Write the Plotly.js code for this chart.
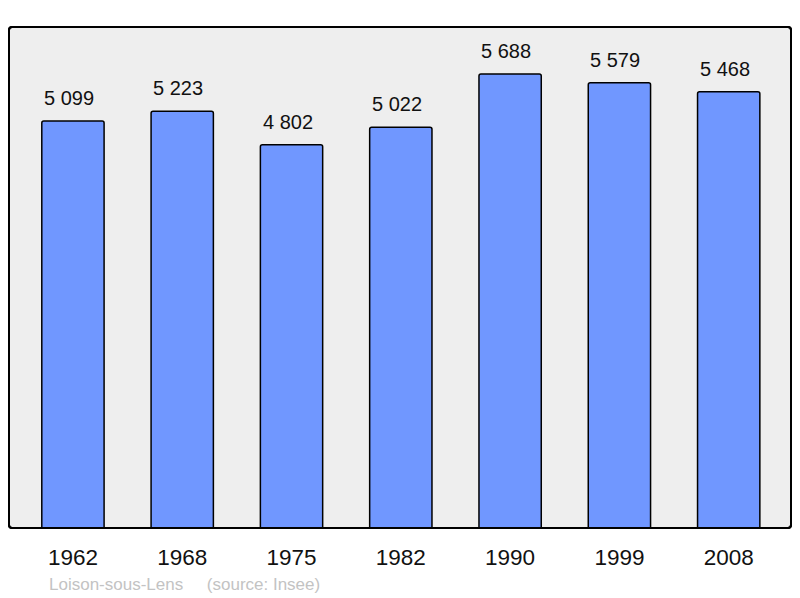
<!DOCTYPE html>
<html>
<head>
<meta charset="utf-8">
<script src="https://cdn.plot.ly/plotly-3.0.1.min.js"></script>
<style>html,body{margin:0;padding:0;background:#fff;}#chart{width:800px;height:598px;}</style>
</head>
<body>
<div id="chart"></div>
<script>
var years = ["1962", "1968", "1975", "1982", "1990", "1999", "2008"];
var population = [5099, 5223, 4802, 5022, 5688, 5579, 5468];
var commune = "Loison-sous-Lens";
var source = "(source: Insee)";

function fmt(v) { return String(v).replace(/\B(?=(\d{3})+(?!\d))/g, " "); }

var trace = {
  type: "bar",
  x: years,
  y: population,
  width: 0.57,
  marker: { color: "#7097ff", line: { color: "#000", width: 1.5 }, cornerradius: 2 },
  hoverinfo: "none"
};

var annotations = [];
for (var i = 0; i < years.length; i++) {
  annotations.push({
    x: i, y: population[i], xref: "x", yref: "y",
    text: fmt(population[i]), showarrow: false,
    yanchor: "bottom", yshift: 10, xshift: -4,
    font: { family: "Liberation Sans, Arial, sans-serif", size: 20, color: "#111" }
  });
}
annotations.push({
  xref: "paper", yref: "paper", x: 0.049, y: -0.112, xanchor: "left", yanchor: "middle",
  text: commune + "&nbsp;&nbsp;&nbsp;&nbsp;&nbsp;" + source, showarrow: false,
  font: { family: "Liberation Sans, Arial, sans-serif", size: 17, color: "#c3c3c3" }
});

var layout = {
  width: 800, height: 598,
  margin: { l: 9, r: 9, t: 27, b: 70 },
  paper_bgcolor: "#fff",
  plot_bgcolor: "rgba(0,0,0,0)",
  showlegend: false,
  xaxis: {
    type: "category", range: [-0.585, 6.57],
    showgrid: false, zeroline: false, showline: false, ticks: "",
    ticklabelstandoff: 13,
    tickfont: { family: "Liberation Sans, Arial, sans-serif", size: 22.5, color: "#111" },
    fixedrange: true
  },
  yaxis: {
    range: [0, 6278], showgrid: false, zeroline: false, showline: false,
    showticklabels: false, ticks: "", fixedrange: true
  },
  shapes: [{
    type: "path", xref: "paper", yref: "paper", layer: "below",
    path: "M0.004,0 L0.996,0 Q1,0 1,0.006 L1,0.994 Q1,1 0.996,1 L0.004,1 Q0,1 0,0.994 L0,0.006 Q0,0 0.004,0 Z",
    fillcolor: "#eeeeee", line: { color: "#000", width: 2 }
  }, {
    type: "path", xref: "paper", yref: "paper", layer: "above",
    path: "M0.004,0 L0.996,0 Q1,0 1,0.006 L1,0.994 Q1,1 0.996,1 L0.004,1 Q0,1 0,0.994 L0,0.006 Q0,0 0.004,0 Z",
    fillcolor: "rgba(0,0,0,0)", line: { color: "#000", width: 2 }
  }],
  annotations: annotations,
  font: { family: "Liberation Sans, Arial, sans-serif" }
};

Plotly.newPlot("chart", [trace], layout, { displayModeBar: false, staticPlot: true });
</script>
</body>
</html>
